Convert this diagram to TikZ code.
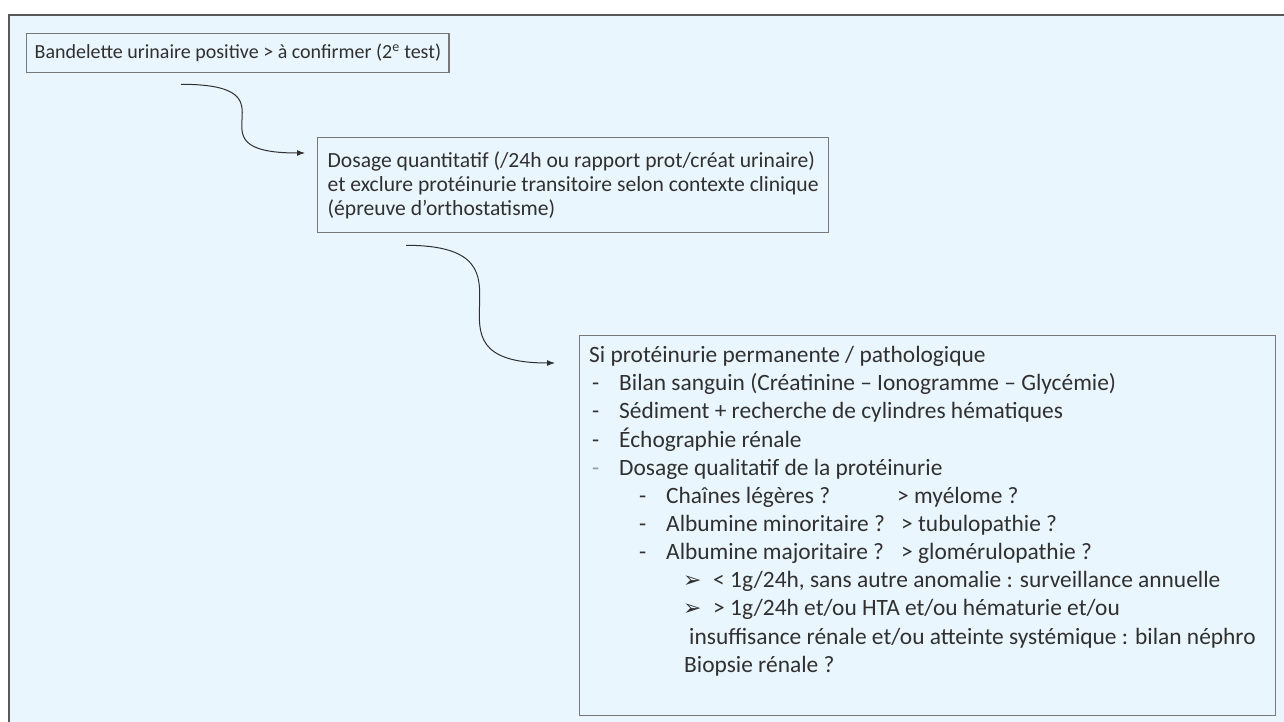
\documentclass[tikz,border=0pt]{standalone}
\usepackage{fontspec}
\setmainfont{Carlito}
\newfontfamily\symfont{DejaVu Sans}
\usepackage{tikz}
\usetikzlibrary{arrows.meta}
\definecolor{panelblue}{HTML}{EAF6FD}
\definecolor{framegray}{HTML}{5A5A5A}
\definecolor{boxgray}{HTML}{787878}
\definecolor{inkgray}{HTML}{303030}
\definecolor{dashgray}{HTML}{9A9A9A}

\begin{document}
\begin{tikzpicture}[x=1pt, y=-1pt,
    box/.style={draw=boxgray, line width=1.3pt, fill=panelblue, anchor=north west,
      inner ysep=0pt, text=inkgray, font=\fontsize{23}{28}\selectfont},
    txt/.style={anchor=base west, inner sep=0pt, text=inkgray, font=\fontsize{23.4}{28}\selectfont},
    flow/.style={draw=inkgray, line width=1pt, -{Latex[length=8pt, width=6pt]}}]
  \useasboundingbox (0,0) rectangle (1284,722);
  % panel
  \fill[panelblue] (9,15) rectangle (1300,740);
  \draw[framegray, line width=2pt] (9,740) -- (9,15) -- (1300,15);

  % boxes
  \node[box, minimum height=39pt, inner xsep=8pt, font=\fontsize{20}{24}\selectfont] (test) at (26,33)
    {Bandelette urinaire positive > à confirmer (2\textsuperscript{e} test)};
  \node[box, align=left, minimum height=95pt, inner xsep=10pt,
    font=\fontsize{21.6}{24}\selectfont] (dosage) at (317,137)
    {Dosage quantitatif (/24h ou rapport prot/créat urinaire)\\
     et exclure protéinurie transitoire selon contexte clinique\\
     (épreuve d’orthostatisme)};
  \node[box, minimum width=696pt, minimum height=380pt] (bilan) at (579,335) {};

  % arrows
  \draw[flow] ([shift={(155,11)}]test.south west)
    .. controls +(124,0) and +(-124,0) .. ([shift={(-12,16)}]dosage.north west);
  \draw[flow] ([shift={(89,12)}]dosage.south west)
    .. controls +(149,0) and +(-149,0) .. ([shift={(-24,28)}]bilan.north west);

  % contents of the big box
  \node[txt] (l1) at (589,362) {Si protéinurie permanente / pathologique};
  \node[txt] (d2) at (592,390) {-};
  \node[txt] (l2) at (619,390) {Bilan sanguin (Créatinine – Ionogramme – Glycémie)};
  \node[txt] (d3) at (592,418) {-};
  \node[txt] (l3) at (619,418) {Sédiment + recherche de cylindres hématiques};
  \node[txt] (d4) at (592,447) {-};
  \node[txt] (l4) at (619,447) {Échographie rénale};
  \node[txt, text=dashgray] (d5) at (592,475) {-};
  \node[txt] (l5) at (619,475) {Dosage qualitatif de la protéinurie};
  \node[txt] (d6) at (639,503) {-};
  \node[txt] (l6) at (666,503) {Chaînes légères ?};
  \node[txt] (r6) at (897,503) {> myélome ?};
  \node[txt] (d7) at (639,531) {-};
  \node[txt] (l7) at (666,531) {Albumine minoritaire ?};
  \node[txt] (r7) at (901,531) {> tubulopathie ?};
  \node[txt] (d8) at (639,559) {-};
  \node[txt] (l8) at (666,559) {Albumine majoritaire ?};
  \node[txt] (r8) at (901,559) {> glomérulopathie ?};
  \node[txt, font=\symfont\fontsize{22}{24}\selectfont] (a9) at (683,587) {➢};
  \node[txt] (l9) at (713,587) {< 1g/24h, sans autre anomalie : surveillance annuelle};
  \node[txt, font=\symfont\fontsize{22}{24}\selectfont] (a10) at (683,615) {➢};
  \node[txt] (l10) at (713,615) {> 1g/24h et/ou HTA et/ou hématurie et/ou};
  \node[txt] (l11) at (689,644) {insuffisance rénale et/ou atteinte systémique : bilan néphro};
  \node[txt] (l12) at (684,672) {Biopsie rénale ?};
\end{tikzpicture}
\end{document}
